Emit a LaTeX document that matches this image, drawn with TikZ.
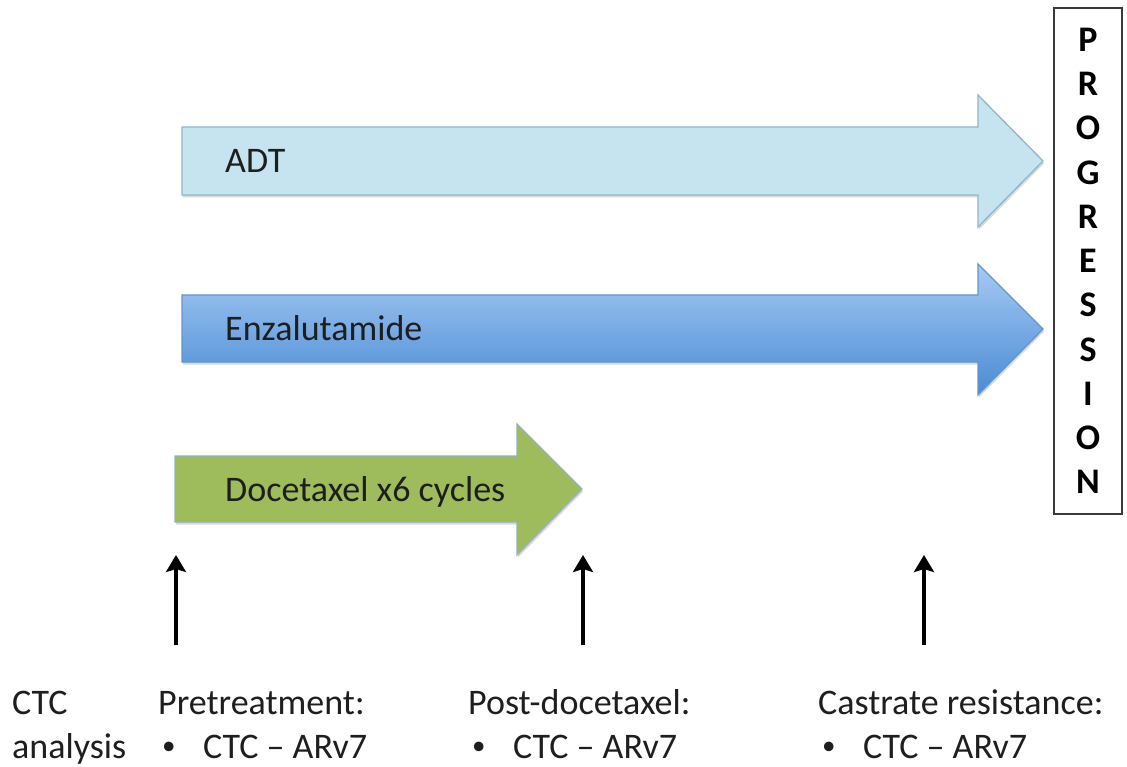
\documentclass[tikz,border=0pt]{standalone}
\usepackage{fontspec}
\setmainfont{Carlito}
\usetikzlibrary{arrows.meta,shadows}

\definecolor{adtfill}{HTML}{C6E4EF}
\definecolor{adtline}{HTML}{90B6C9}
\definecolor{enzatop}{HTML}{A6CAF3}
\definecolor{enzabot}{HTML}{4A8BD5}
\definecolor{enzaline}{HTML}{6495CC}
\definecolor{docefill}{HTML}{9EBC5C}
\definecolor{doceline}{HTML}{93B2C2}
\definecolor{boxline}{HTML}{3A3A3A}
\definecolor{inktext}{HTML}{1E1E1E}

\begin{document}
\begin{tikzpicture}[x=1pt,y=-1pt]
		\tikzset{therapy/.style={line width=1.3pt,
								 line join=miter,
								 drop shadow={opacity=0.3,
											  shadow xshift=1pt,
											  shadow yshift=-2.5pt}},
				 drug/.style={anchor=base west,
							  inner sep=0pt,
							  text=inktext,
							  font=\fontsize{36}{44}\selectfont},
				 note/.style={anchor=base west,
							  inner sep=0pt,
							  text=inktext,
							  font=\fontsize{36}{44}\selectfont},
				 sample/.style={line width=3.2pt,
								-{Stealth[length=17pt,width=20pt,inset=3pt]}}}
		\newcommand{\ctcitem}{\makebox[41pt][l]{\raisebox{3.5pt}{\fontsize{27}{27}\selectfont\textbullet}}CTC -- ARv7}
		\useasboundingbox (0,0) rectangle (1127,767);

		% Treatment arrows
		\path[therapy, draw=adtline, fill=adtfill]
			(182,127) -- (978,127) -- (978,95) -- (1043,161)
			-- (978,227) -- (978,195) -- (182,195) -- cycle;
		\path[therapy, draw=enzaline, top color=enzatop, bottom color=enzabot]
			(182,295) -- (978,295) -- (978,264) -- (1043,329)
			-- (978,395) -- (978,362) -- (182,362) -- cycle;
		\path[therapy, draw=doceline, fill=docefill]
			(175,456) -- (517,456) -- (517,424) -- (582,489)
			-- (517,555) -- (517,522) -- (175,522) -- cycle;
		\node[drug] (adt) at (225,173) {ADT};
		\node[drug] (enza) at (225,341) {Enzalutamide};
		\node[drug] (doce) at (225,501) {Docetaxel x6 cycles};

		% Progression box
		\node[draw=boxline, line width=1.6pt, inner sep=0pt,
			  minimum width=68pt, minimum height=506pt, align=center,
			  font=\fontsize{36}{44.25}\selectfont\bfseries]
			(prog) at (1088,261) {P\\R\\O\\G\\R\\E\\S\\S\\I\\O\\N};

		% Sampling points
		\coordinate (pre-tail) at (176,645);
		\coordinate (pre-tip) at (176,555);
		\coordinate (post-tail) at (583,645);
		\coordinate (post-tip) at (583,555);
		\coordinate (crpc-tail) at (924,645);
		\coordinate (crpc-tip) at (924,555);
		\draw[sample] (pre-tail) -- (pre-tip);
		\draw[sample] (post-tail) -- (post-tip);
		\draw[sample] (crpc-tail) -- (crpc-tip);

		% CTC analysis
		\node[note] (ctc) at (12,714) {CTC};
		\node[note] (analysis) at (12,758) {analysis};
		\node[note] (pre) at (158,714) {Pretreatment:};
		\node[note] (pre-item) at (162,758) {\ctcitem};
		\node[note] (post) at (468,714) {Post-docetaxel:};
		\node[note] (post-item) at (472,758) {\ctcitem};
		\node[note] (crpc) at (818,714) {Castrate resistance:};
		\node[note] (crpc-item) at (822,758) {\ctcitem};
	\end{tikzpicture}
\end{document}
